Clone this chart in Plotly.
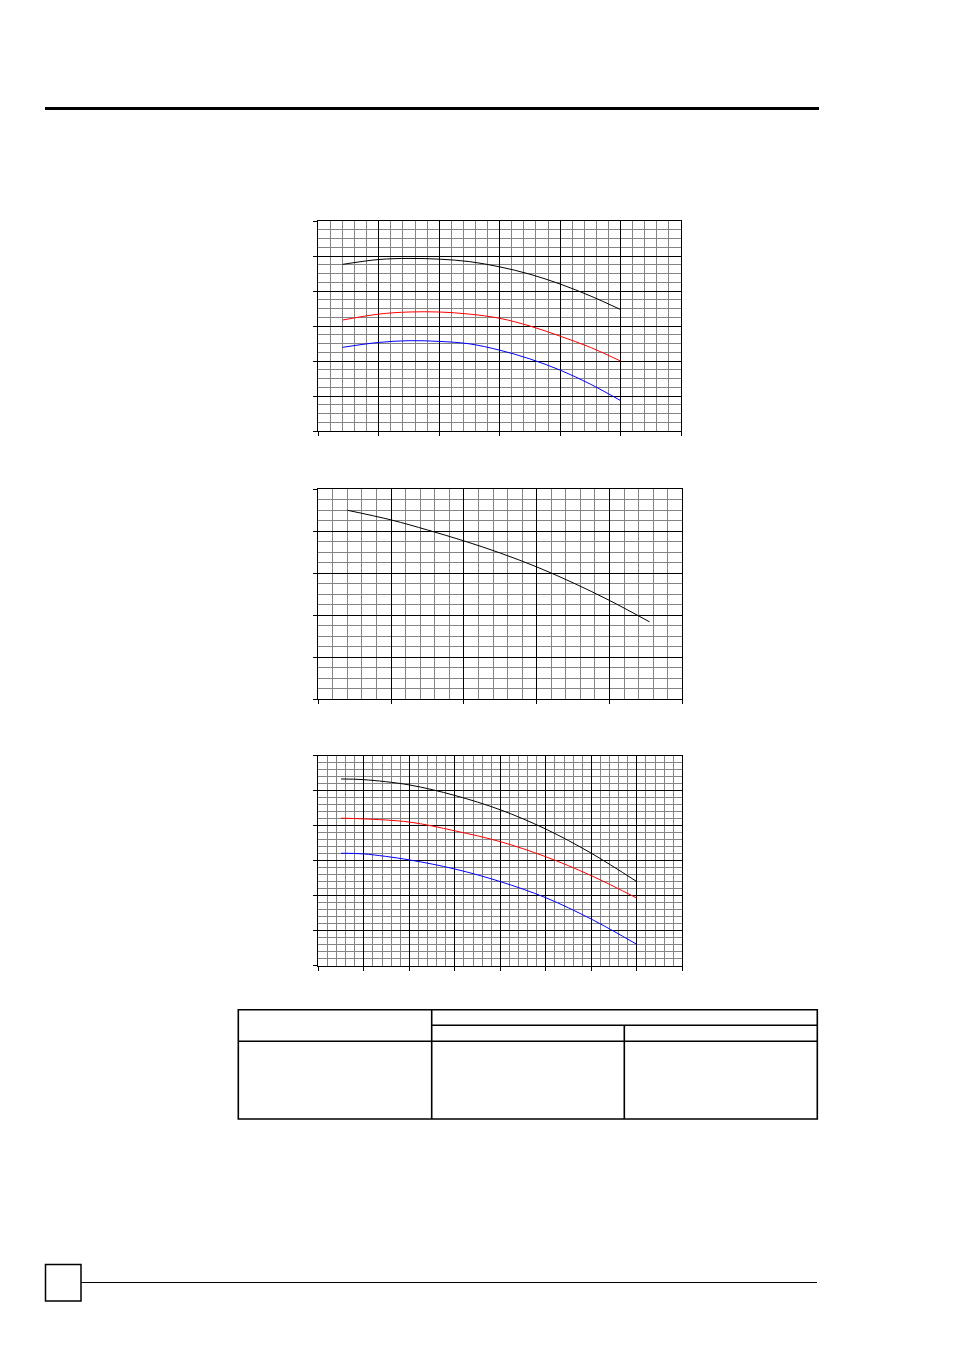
import plotly.graph_objects as go

# page size (px)
W, H = 954, 1350

# chart 1: three curves, x 0..6, y 0..6
c1_x = [0.4, 1.0, 1.5, 2.0, 2.5, 3.0, 3.5, 4.0, 4.5, 5.0]
c1_black = [4.76, 4.90, 4.93, 4.91, 4.84, 4.69, 4.48, 4.20, 3.86, 3.47]
c1_red = [3.17, 3.34, 3.40, 3.40, 3.34, 3.22, 3.00, 2.71, 2.39, 2.00]
c1_blue = [2.39, 2.53, 2.58, 2.56, 2.49, 2.31, 2.06, 1.74, 1.34, 0.87]

# chart 2: one curve, x 0..5, y 0..5
c2_x = [0.4, 1.0, 1.5, 2.0, 2.5, 3.0, 3.5, 4.0, 4.55]
c2_black = [4.50, 4.27, 4.03, 3.77, 3.48, 3.15, 2.77, 2.35, 1.84]

# chart 3: three curves, x 0..8, y 0..6
c3_x = [0.5, 1, 2, 3, 4, 5, 6, 7]
c3_black = [5.33, 5.31, 5.16, 4.86, 4.45, 3.90, 3.21, 2.40]
c3_red = [4.21, 4.19, 4.10, 3.85, 3.54, 3.11, 2.57, 1.93]
c3_blue = [3.21, 3.19, 3.02, 2.76, 2.40, 1.94, 1.33, 0.61]


def px_x(p):
    return p / W


def px_y(p):
    return 1 - p / H


def axis_style(n_major, n_minor, left, right):
    return dict(
        range=[0, n_major], dtick=1, tick0=0,
        domain=[px_x(left), px_x(right)],
        showgrid=True, gridcolor="black", gridwidth=1.3,
        showline=True, mirror=True, linecolor="black", linewidth=1.3,
        ticks="outside", ticklen=4, tickcolor="black", tickwidth=1.2,
        showticklabels=False, zeroline=False, fixedrange=True,
        minor=dict(dtick=1 / n_minor, showgrid=True, gridcolor="#848484", gridwidth=1),
    )


fig = go.Figure()

charts = [
    # (x, series, colors, x majors, x minors, y majors, y minors, left, right, top, bottom)
    (c1_x, [c1_black, c1_red, c1_blue], ["black", "red", "blue"], 6, 5, 6, 4, 318.3, 681.0, 221.0, 431.0),
    (c2_x, [c2_black], ["black"], 5, 5, 5, 4, 318.3, 682.3, 489.3, 699.0),
    (c3_x, [c3_black, c3_red, c3_blue], ["black", "red", "blue"], 8, 5, 6, 5, 318.3, 682.3, 755.5, 965.7),
]

layout_axes = {}
for n, (xs, series, colors, nxm, nxs, nym, nys, l, r, t, b) in enumerate(charts, start=1):
    sfx = "" if n == 1 else str(n)
    for ys, col in zip(series, colors):
        fig.add_trace(go.Scatter(
            x=xs, y=ys, mode="lines", line=dict(color=col, width=1, shape="spline"),
            xaxis="x" + sfx, yaxis="y" + sfx, showlegend=False, hoverinfo="skip",
        ))
    xa = axis_style(nxm, nxs, l, r)
    xa["anchor"] = "y" + sfx
    ya = axis_style(nym, nys, l, r)
    ya["domain"] = [px_y(b), px_y(t)]
    ya["anchor"] = "x" + sfx
    layout_axes["xaxis" + sfx] = xa
    layout_axes["yaxis" + sfx] = ya

fig.update_layout(**layout_axes)


def hline(x0, x1, y, w):
    return dict(type="line", xref="paper", yref="paper",
                x0=px_x(x0), x1=px_x(x1), y0=px_y(y), y1=px_y(y),
                line=dict(color="black", width=w))


def vline(x, y0, y1, w):
    return dict(type="line", xref="paper", yref="paper",
                x0=px_x(x), x1=px_x(x), y0=px_y(y0), y1=px_y(y1),
                line=dict(color="black", width=w))


# page header / footer
shapes = [
    hline(45, 819, 108.5, 3),
    dict(type="rect", xref="paper", yref="paper",
         x0=px_x(45.5), x1=px_x(81), y0=px_y(1264.5), y1=px_y(1301),
         line=dict(color="black", width=1.5)),
    hline(81, 817, 1282.5, 1.2),
]

# empty table below the charts
tl, tr, tt, tb = 238.3, 817.3, 1009.7, 1119.0
c1, c2 = 431.7, 624.3
r1, r2 = 1025.3, 1041.3
shapes += [
    dict(type="rect", xref="paper", yref="paper",
         x0=px_x(tl), x1=px_x(tr), y0=px_y(tb), y1=px_y(tt),
         line=dict(color="black", width=1.6)),
    vline(c1, tt, tb, 1.6),
    hline(c1, tr, r1, 1.6),
    hline(tl, tr, r2, 1.6),
    vline(c2, r1, tb, 1.6),
]

fig.update_layout(
    width=W, height=H,
    margin=dict(l=0, r=0, t=0, b=0),
    paper_bgcolor="white", plot_bgcolor="white",
    shapes=shapes,
    showlegend=False,
)

fig.write_html("out.html", config={"displayModeBar": False},
               post_script="document.body.style.margin='0px';")
